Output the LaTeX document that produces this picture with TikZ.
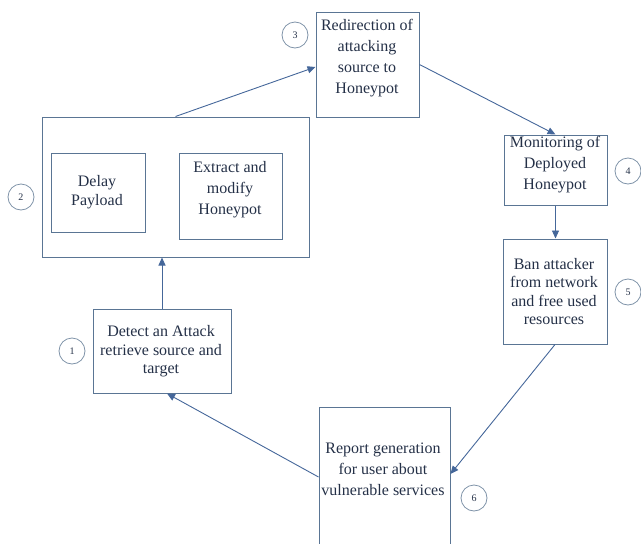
\documentclass[tikz,border=0pt]{standalone}
\usepackage{fontspec}
\setmainfont{Liberation Serif}
\usetikzlibrary{arrows.meta}
\definecolor{boxline}{HTML}{5A7594}
\definecolor{arrowline}{HTML}{45679A}
\definecolor{ringline}{HTML}{7F93A8}
\definecolor{labeltext}{HTML}{243047}

\begin{document}
\begin{tikzpicture}[x=1pt,y=-1pt,
  stagebox/.style={draw=boxline,line width=1pt,inner sep=0pt},
  stagetext/.style={text=labeltext,align=center,inner sep=0pt,font=\fontsize{16}{21}\selectfont},
  tighttext/.style={stagetext,font=\fontsize{16}{18.5}\selectfont},
  stepring/.style={circle,draw=ringline,line width=0.8pt,minimum size=26pt,inner sep=0pt,text=labeltext,font=\fontsize{10}{12}\selectfont},
  flow/.style={draw=arrowline,line width=0.9pt,-{Triangle[length=8pt,width=7pt]}}]
\useasboundingbox (0,0) rectangle (641,544);

\node[stagebox,minimum width=103pt,minimum height=105pt] (redir) at (367.5,64.5) {};
\node[stagebox,minimum width=267pt,minimum height=140pt] (prep) at (175.5,187) {};
\node[stagebox,minimum width=94pt,minimum height=79pt] (delay) at (98,192.5) {};
\node[stagebox,minimum width=103pt,minimum height=86pt] (extract) at (230.5,196) {};
\node[stagebox,minimum width=103pt,minimum height=70pt] (monitor) at (555.5,170) {};
\node[stagebox,minimum width=104pt,minimum height=105pt] (ban) at (555,291.5) {};
\node[stagebox,minimum width=138pt,minimum height=84pt] (detect) at (162,351) {};
\node[stagebox,minimum width=131pt,minimum height=140pt] (report) at (384.5,477) {};

\node[stagetext] (redir-t) at (367,58) {Redirection of\\attacking\\source to\\Honeypot};
\node[tighttext] (delay-t) at (97,192) {Delay\\Payload};
\node[stagetext] (extract-t) at (230,190) {Extract and\\modify\\Honeypot};
\node[stagetext] (monitor-t) at (555,165) {Monitoring of\\Deployed\\Honeypot};
\node[tighttext] (ban-t) at (554,291.5) {Ban attacker\\from network\\and free used\\resources};
\node[tighttext] (detect-t) at (161,351.5) {Detect an Attack\\retrieve source and\\target};
\node[stagetext] (report-t) at (383,469) {Report generation\\for user about\\vulnerable services};

\node[stepring] (n1) at (72,351) {1};
\node[stepring] (n2) at (21,197) {2};
\node[stepring] (n3) at (295,35) {3};
\node[stepring] (n4) at (628,171) {4};
\node[stepring] (n5) at (628,292) {5};
\node[stepring] (n6) at (474,498) {6};

\draw[flow] (detect.north) -- (detect.north |- prep.south);
\draw[flow] (prep.north) -- ([yshift=-2.5pt]redir.west);
\draw[flow] (redir.east) -- (monitor.north);
\draw[flow] (monitor.south) -- (monitor.south |- ban.north);
\draw[flow] (ban.south) -- ([yshift=3pt]report.east);
\draw[flow] (report.west) -- ([xshift=5pt]detect.south);
\end{tikzpicture}
\end{document}
